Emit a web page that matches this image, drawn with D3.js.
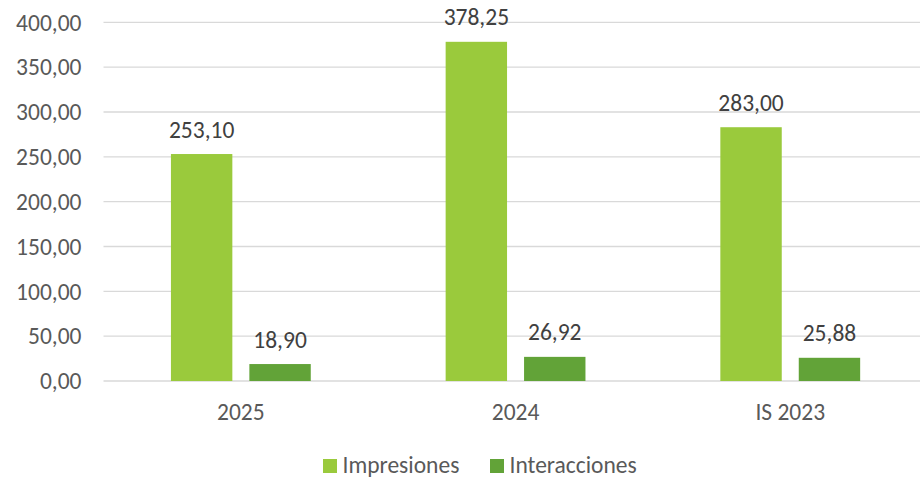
<!DOCTYPE html>
<html><head><meta charset="utf-8">
<script src="https://cdn.jsdelivr.net/npm/d3@7"></script>
<style>
html,body{margin:0;padding:0;background:#fff;}
text{font-family:Carlito, Calibri, Lato, sans-serif;}
</style></head>
<body>
<svg id="chart" width="920" height="481"></svg>
<script>
const categories = ["2025", "2024", "IS 2023"];
const seriesNames = ["Impresiones", "Interacciones"];
const impresiones = [253.10, 378.25, 283.00];
const interacciones = [18.90, 26.92, 25.88];
const yTicks = [0, 50, 100, 150, 200, 250, 300, 350, 400];
const colors = ["#9ACA3C", "#62A338"];

const data = categories.map((c, i) => ({cat: c, values: [impresiones[i], interacciones[i]]}));
const fmt = v => d3.format(".2f")(v).replace(".", ",");
const FS = 23.5;

const svg = d3.select("#chart");
const W = 920;
const plot = {left: 103.5, right: 927.6, top: 22.3, bottom: 381};

const y = d3.scaleLinear().domain([0, 400]).range([plot.bottom, plot.top]);
const x0 = d3.scaleBand().domain(categories).range([plot.left, plot.right]).paddingInner(0.491).paddingOuter(0.2455);
const x1 = d3.scaleBand().domain(seriesNames).range([0, x0.bandwidth()]).paddingInner(0.217).paddingOuter(0);

// gridlines
svg.append("g").selectAll("line").data(yTicks).join("line")
  .attr("x1", plot.left).attr("x2", W)
  .attr("y1", d => y(d)).attr("y2", d => y(d))
  .attr("stroke", "#D9D9D9").attr("stroke-width", 1.3);

// y tick labels
const yAxis = d3.axisLeft(y).tickValues(yTicks).tickFormat(fmt).tickSize(0).tickPadding(0);
const ya = svg.append("g").attr("transform", `translate(81.5,0)`).call(yAxis);
ya.select(".domain").remove();
ya.selectAll("text").attr("font-size", FS).attr("fill", "#595959")
  .attr("font-family", "Carlito, Calibri, Lato, sans-serif").attr("dy", "0.33em");

// x axis labels
const xAxis = d3.axisBottom(x0).tickSize(0).tickPadding(0);
const xa = svg.append("g").attr("transform", `translate(0,${plot.bottom})`).call(xAxis);
xa.select(".domain").remove();
xa.selectAll("text").attr("font-size", FS).attr("fill", "#595959")
  .attr("font-family", "Carlito, Calibri, Lato, sans-serif").attr("y", 38.7).attr("dy", 0);

// bars
const groups = svg.append("g").selectAll("g").data(data).join("g")
  .attr("transform", d => `translate(${x0(d.cat)},0)`);
groups.selectAll("rect").data(d => d.values.map((v, i) => ({name: seriesNames[i], v, i}))).join("rect")
  .attr("x", d => x1(d.name)).attr("width", x1.bandwidth())
  .attr("y", d => y(d.v)).attr("height", d => y(0) - y(d.v))
  .attr("fill", d => colors[d.i]);
groups.selectAll("text.lbl").data(d => d.values.map((v, i) => ({name: seriesNames[i], v, i}))).join("text")
  .attr("class", "lbl")
  .attr("x", d => x1(d.name) + x1.bandwidth() / 2)
  .attr("y", d => y(d.v) - 16.5)
  .attr("text-anchor", "middle").attr("font-size", FS).attr("fill", "#404040")
  .text(d => fmt(d.v));

// legend
const legendX = [323, 490];
const leg = svg.append("g").selectAll("g").data(seriesNames).join("g")
  .attr("transform", (d, i) => `translate(${legendX[i]},459)`);
leg.append("rect").attr("width", 14).attr("height", 14).attr("fill", (d, i) => colors[i]);
leg.append("text").attr("x", 19.5).attr("y", 14.3).attr("font-size", FS).attr("fill", "#595959").text(d => d);
</script>
</body></html>
